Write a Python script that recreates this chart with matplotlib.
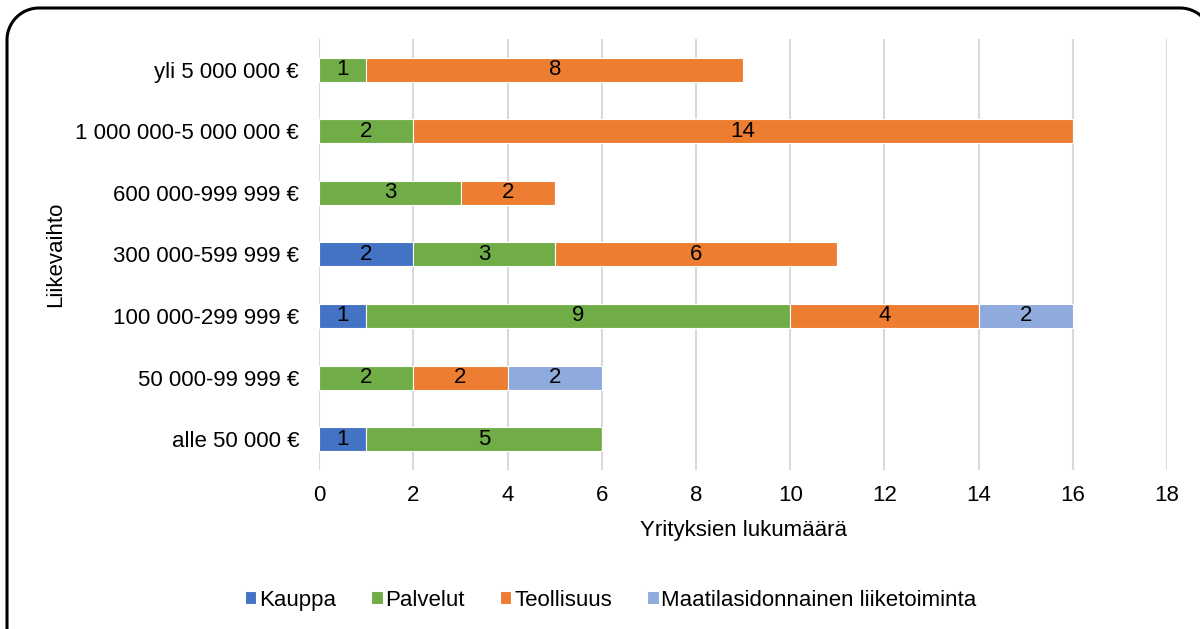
import numpy as np
import matplotlib.pyplot as plt
from matplotlib.lines import Line2D

plt.rcParams['font.family'] = ['Liberation Sans', 'DejaVu Sans']

categories = ['alle 50 000 €', '50 000-99 999 €', '100 000-299 999 €',
              '300 000-599 999 €', '600 000-999 999 €',
              '1 000 000-5 000 000 €', 'yli 5 000 000 €']
kauppa = [1, 0, 1, 2, 0, 0, 0]
palvelut = [5, 2, 9, 3, 3, 2, 1]
teollisuus = [0, 2, 4, 6, 2, 14, 8]
maatila = [0, 2, 2, 0, 0, 0, 0]

series = [('Kauppa', kauppa, '#4472C4'),
          ('Palvelut', palvelut, '#70AD47'),
          ('Teollisuus', teollisuus, '#ED7D31'),
          ('Maatilasidonnainen liiketoiminta', maatila, '#8FAADC')]

fig = plt.figure(figsize=(12, 6.29), dpi=100)
ax = fig.add_axes([0.266, 0.253, 0.7065, 0.685])

y = np.arange(len(categories))
left = np.zeros(len(categories))
for name, vals, col in series:
    vals = np.array(vals, dtype=float)
    bars = ax.barh(y, vals, left=left, height=0.39, color=col, label=name,
                   edgecolor='white', linewidth=0.8, zorder=3)
    for b, v in zip(bars, vals):
        if v > 0:
            ax.text(b.get_x() + b.get_width() / 2, b.get_y() + b.get_height() / 2,
                    f'{int(v)}', ha='center', va='center', fontsize=16, color='black', zorder=4)
    left += vals

ax.set_xlim(0, 18)
ax.set_ylim(-0.5, 6.5)
ax.set_xticks(np.arange(0, 19, 2))
ax.set_yticks(y)
ax.set_yticklabels(categories)
ax.tick_params(axis='both', length=0, labelsize=16, colors='black')
ax.tick_params(axis='x', pad=11)
ax.tick_params(axis='y', pad=14.5)
ax.grid(axis='x', color='#D9D9D9', linewidth=1.5, zorder=0)
for s in ax.spines.values():
    s.set_visible(False)

ax.set_xlabel('Yrityksien lukumäärä', fontsize=16, labelpad=10)
fig.text(0.046, 0.595, 'Liikevaihto', rotation=90, ha='center', va='center', fontsize=16)

fig.legend(loc='center', bbox_to_anchor=(0.509, 0.046), ncol=4, frameon=False,
           fontsize=16, handlelength=0.5, handleheight=0.5, handletextpad=0.12,
           columnspacing=1.6)

# rounded frame (inches): left edge, top edge, right edge runs off the canvas
x0, x1, top, r = 0.07, 12.12, 6.21, 0.32
t = np.linspace(0, np.pi / 2, 40)
left_arc_x = x0 + r - r * np.cos(t)
left_arc_y = top - r + r * np.sin(t)
right_arc_x = x1 - r + r * np.sin(t)
right_arc_y = top - r + r * np.cos(t)
fx = np.concatenate([[x0], left_arc_x, right_arc_x, [x1]])
fy = np.concatenate([[-0.5], left_arc_y, right_arc_y, [-0.5]])
fig.lines.append(Line2D(fx, fy, transform=fig.dpi_scale_trans, color='black',
                        linewidth=2.2, solid_joinstyle='round'))

fig.savefig('out.png', dpi=100)
